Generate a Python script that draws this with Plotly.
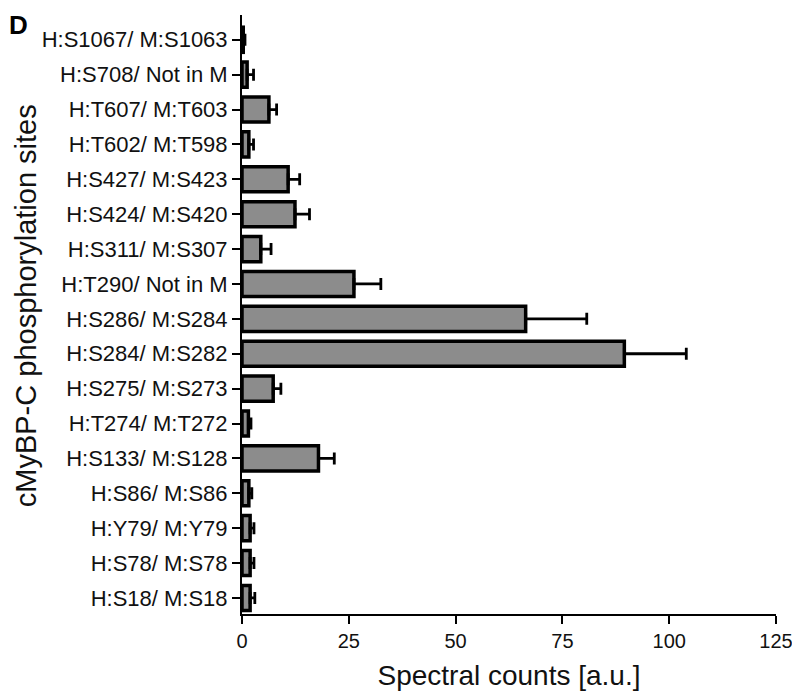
import plotly.graph_objects as go

sites = [
    "H:S1067/ M:S1063", "H:S708/ Not in M", "H:T607/ M:T603", "H:T602/ M:T598",
    "H:S427/ M:S423", "H:S424/ M:S420", "H:S311/ M:S307", "H:T290/ Not in M",
    "H:S286/ M:S284", "H:S284/ M:S282", "H:S275/ M:S273", "H:T274/ M:T272",
    "H:S133/ M:S128", "H:S86/ M:S86", "H:Y79/ M:Y79", "H:S78/ M:S78", "H:S18/ M:S18",
]
counts = [0.3, 1.2, 6.3, 1.6, 10.8, 12.4, 4.4, 26.2, 66.4, 89.5, 7.3, 1.5, 17.9, 1.6, 1.9, 1.9, 1.9]
errors = [0.4, 1.5, 1.8, 1.1, 2.7, 3.4, 2.4, 6.3, 14.3, 14.5, 1.8, 0.6, 3.7, 0.7, 0.9, 0.9, 1.1]
x_ticks = [0, 25, 50, 75, 100, 125]

FONT = "Arial, Liberation Sans, sans-serif"

fig = go.Figure()
fig.add_trace(go.Bar(
    y=sites, x=counts, orientation="h",
    width=0.72,
    marker=dict(color="#8c8c8c", line=dict(color="black", width=3.5)),
    error_x=dict(type="data", array=errors, arrayminus=[0] * len(errors),
                 symmetric=False, color="black", thickness=2.8, width=6),
    showlegend=False,
))

n = len(sites)
fig.update_layout(
    width=792, height=691,
    margin=dict(l=234, r=18, t=7, b=85),
    plot_bgcolor="white", paper_bgcolor="white",
    font=dict(family=FONT, color="black"),
    xaxis=dict(
        range=[0, 125], tickvals=x_ticks, ticktext=[str(v) for v in x_ticks],
        showgrid=False, zeroline=False,
        showline=True, linecolor="black", linewidth=2,
        ticks="outside", ticklen=8, tickwidth=2, tickcolor="black",
        tickfont=dict(size=20, color="#111"),
        title=dict(text="Spectral counts [a.u.]", font=dict(size=28, color="#111"), standoff=14),
    ),
    yaxis=dict(
        type="category", categoryorder="array", categoryarray=sites,
        range=[n - 1 + 0.46, -0.71],
        showgrid=False, zeroline=False,
        showline=True, linecolor="black", linewidth=2,
        ticks="outside", ticklen=8, tickwidth=2, tickcolor="black",
        tickfont=dict(size=22, color="#111"),
    ),
    annotations=[
        dict(text="cMyBP-C phosphorylation sites", textangle=-90,
             xref="paper", yref="paper", x=-0.405, y=0.515,
             xanchor="center", yanchor="middle", showarrow=False,
             font=dict(size=29, color="#111")),
        dict(text="<b>D</b>", xref="paper", yref="paper", x=-0.44, y=1.012,
             xanchor="left", yanchor="top", showarrow=False,
             font=dict(size=26, color="black")),
    ],
)

fig.write_html("out.html")
